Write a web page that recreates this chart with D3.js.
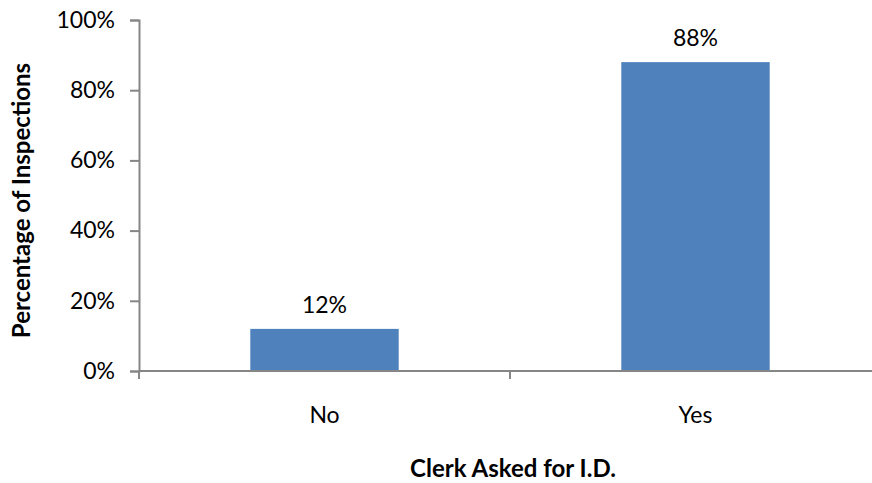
<!DOCTYPE html>
<html>
<head>
<meta charset="utf-8">
<script src="https://cdn.jsdelivr.net/npm/d3@7"></script>
<style>
  html, body { margin: 0; padding: 0; background: #fff; }
  svg { display: block; }
  text { font-family: Lato, "Open Sans", sans-serif; fill: #000; }
</style>
</head>
<body>
<svg id="chart" width="872" height="483"></svg>
<script>
// Share of inspections by whether the clerk asked for I.D.
const categories = ["No", "Yes"];
const values = [12, 88];
const yTicks = [0, 20, 40, 60, 80, 100];

const svg = d3.select("#chart");
const margin = { left: 139, top: 20, axisY: 371, right: 881 };

const x = d3.scaleBand()
  .domain(categories)
  .range([margin.left, margin.right])
  .paddingInner(0.6)
  .paddingOuter(0.3);

const y = d3.scaleLinear()
  .domain([0, 100])
  .range([margin.axisY, margin.top]);

const axisColor = "#868686";
const labelSize = "23px";

// Bars
svg.append("g").selectAll("rect")
  .data(values)
  .join("rect")
  .attr("x", (d, i) => x(categories[i]))
  .attr("width", x.bandwidth())
  .attr("y", d => y(d))
  .attr("height", d => y(0) - y(d))
  .attr("fill", "#4F81BD");

// Value labels above bars
svg.append("g").selectAll("text")
  .data(values)
  .join("text")
  .attr("x", (d, i) => x(categories[i]) + x.bandwidth() / 2)
  .attr("y", d => y(d) - 16)
  .attr("text-anchor", "middle")
  .style("font-size", labelSize)
  .text(d => d + "%");

// Y axis
const yAxis = svg.append("g")
  .attr("transform", `translate(${margin.left},0)`)
  .call(d3.axisLeft(y).tickValues(yTicks).tickSize(9).tickPadding(15)
    .tickFormat(d => d + "%"));
yAxis.select(".domain").attr("stroke", axisColor).attr("stroke-width", 2);
yAxis.selectAll(".tick line").attr("stroke", axisColor).attr("stroke-width", 2);
yAxis.selectAll(".tick text")
  .style("font-size", labelSize)
  .style("font-family", "Lato, 'Open Sans', sans-serif")
  .attr("fill", "#000");

// X axis: boundary ticks between categories
const xAxis = svg.append("g")
  .attr("transform", `translate(0,${margin.axisY})`);
xAxis.append("line")
  .attr("x1", margin.left).attr("x2", margin.right)
  .attr("stroke", axisColor).attr("stroke-width", 2);
const boundaries = [margin.left, ...categories.slice(1).map(c => x(c) - x.step() * x.paddingInner() / 2), margin.right];
xAxis.selectAll(".bt")
  .data(boundaries)
  .join("line")
  .attr("class", "bt")
  .attr("x1", d => d).attr("x2", d => d)
  .attr("y1", 0).attr("y2", 8)
  .attr("stroke", axisColor).attr("stroke-width", 2);

// Category labels
svg.append("g").selectAll("text")
  .data(categories)
  .join("text")
  .attr("x", d => x(d) + x.bandwidth() / 2)
  .attr("y", 423)
  .attr("text-anchor", "middle")
  .style("font-size", labelSize)
  .text(d => d);

// Axis titles
svg.append("text")
  .attr("x", 513)
  .attr("y", 477)
  .attr("text-anchor", "middle")
  .style("font-size", "24px")
  .style("font-weight", "bold")
  .text("Clerk Asked for I.D.");

svg.append("text")
  .attr("transform", `translate(30,${(margin.top + margin.axisY) / 2 + 5}) rotate(-90)`)
  .attr("text-anchor", "middle")
  .style("font-size", "24px")
  .style("font-weight", "bold")
  .text("Percentage of Inspections");
</script>
</body>
</html>
